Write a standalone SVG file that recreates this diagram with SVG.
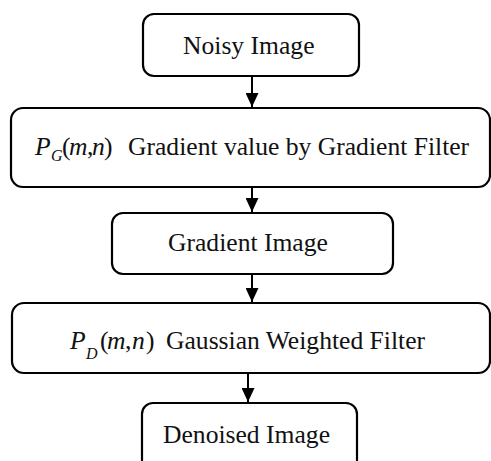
<svg xmlns="http://www.w3.org/2000/svg" width="491" height="461" viewBox="0 0 491 461">
<defs>
<style>
.box{fill:#fff;stroke:#000;stroke-width:2.2}
.t{font-family:'Liberation Serif','Times New Roman',Tinos,'DejaVu Serif',serif;font-size:25.6px;fill:#111}
.i{font-style:italic}
.s{font-size:16px;font-style:italic}
.c{stroke:#000;stroke-width:2;fill:none}
</style>
<marker id="ah" markerWidth="14" markerHeight="13" refX="14" refY="6.5" orient="auto" markerUnits="userSpaceOnUse">
<path d="M0,0 L14,6.5 L0,13 Z" fill="#000"/>
</marker>
</defs>
<rect width="491" height="461" fill="#fff"/>
<g id="connectors">
<line class="c" x1="252" y1="77" x2="252" y2="107" marker-end="url(#ah)"/>
<line class="c" x1="252" y1="188" x2="252" y2="212" marker-end="url(#ah)"/>
<line class="c" x1="252" y1="275" x2="252" y2="302" marker-end="url(#ah)"/>
<line class="c" x1="248" y1="374" x2="248" y2="402" marker-end="url(#ah)"/>
</g>
<g id="noisy">
<rect class="box" x="143" y="14" width="216" height="62" rx="11"/>
<text class="t" x="183" y="54" font-family="Liberation Serif, serif">Noisy Image</text>
</g>
<g id="gradient-filter">
<rect class="box" x="11" y="108" width="479" height="79" rx="12"/>
<text class="t" y="155" font-family="Liberation Serif, serif"><tspan class="i" x="35">P</tspan><tspan class="s" x="51" y="161">G</tspan><tspan x="62" y="155">(</tspan><tspan class="i" x="69">m</tspan><tspan x="87">,</tspan><tspan class="i" x="92">n</tspan><tspan x="104">)</tspan><tspan x="128">Gradient value by Gradient Filter</tspan></text>
</g>
<g id="gradient-image">
<rect class="box" x="112" y="213" width="281" height="61" rx="11"/>
<text class="t" x="168" y="251" font-family="Liberation Serif, serif">Gradient Image</text>
</g>
<g id="gaussian">
<rect class="box" x="12" y="303" width="478" height="70" rx="12"/>
<text class="t" y="349" font-family="Liberation Serif, serif"><tspan class="i" x="70">P</tspan><tspan class="s" x="86" y="359">D</tspan><tspan x="100" y="349">(</tspan><tspan class="i" x="107">m</tspan><tspan x="125">,</tspan><tspan class="i" x="132">n</tspan><tspan x="146">)</tspan><tspan x="166">Gaussian Weighted Filter</tspan></text>
</g>
<g id="denoised">
<rect class="box" x="142" y="403" width="215" height="70" rx="11"/>
<text class="t" x="163" y="443" font-family="Liberation Serif, serif">Denoised Image</text>
</g>
</svg>
